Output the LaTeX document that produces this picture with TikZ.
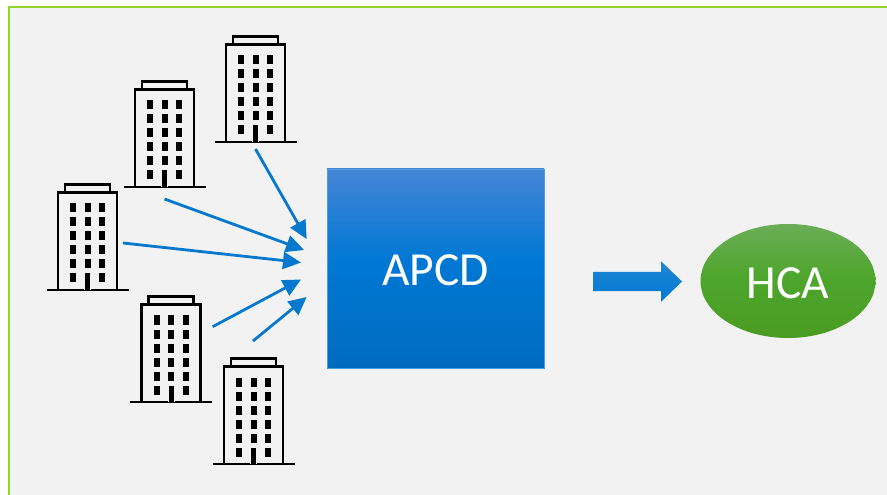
\documentclass[tikz,border=0pt]{standalone}
\usepackage{fontspec}
\setmainfont{Carlito}
\usetikzlibrary{arrows.meta,shapes.geometric,shapes.arrows}
\definecolor{framegreen}{HTML}{92D62A}
\definecolor{panelgray}{HTML}{F2F2F2}
\definecolor{linkblue}{HTML}{0678CE}
\definecolor{apcdtop}{HTML}{4585D6}
\definecolor{apcdmid}{HTML}{0078D4}
\definecolor{apcdbot}{HTML}{006CC0}
\definecolor{hcatop}{HTML}{6BAD58}
\definecolor{hcamid}{HTML}{4EA62C}
\definecolor{hcabot}{HTML}{4A9C22}
\pgfdeclareverticalshading{apcdfade}{100bp}{color(0bp)=(apcdbot); color(25bp)=(apcdbot);
  color(52bp)=(apcdmid); color(75bp)=(apcdtop); color(100bp)=(apcdtop)}
\pgfdeclareverticalshading{hcafade}{100bp}{color(0bp)=(hcabot); color(25bp)=(hcabot);
  color(52bp)=(hcamid); color(75bp)=(hcatop); color(100bp)=(hcatop)}
\tikzstyle{link}=[-{Triangle[length=18bp,width=17bp]},line width=2.8bp,draw=linkblue]
\tikzstyle{wall}=[black,line width=2.8bp]
\tikzstyle{apcdbox}=[rectangle,draw=apcdmid!70!white,line width=.8bp,shading=apcdfade,
  			  minimum width=217bp,minimum height=199bp,text height=33bp,text depth=0pt,
  			  text=white,font=\fontsize{47.5bp}{50bp}\selectfont]
\tikzstyle{hcaball}=[ellipse,draw=none,shading=hcafade,
  			  minimum width=175bp,minimum height=114bp,inner sep=0pt,text height=34bp,text depth=0pt,
  			  text=white,font=\fontsize{47.5bp}{50bp}\selectfont]
\tikzstyle{bigarrow}=[single arrow,draw=none,top color=linkblue!90!white,bottom color=apcdmid,
  			  minimum height=89bp,inner xsep=0pt,inner ysep=9.5bp,
  			  single arrow head extend=10.5bp,single arrow tip angle=88,single arrow head indent=0pt]
\tikzset{
  building/.pic={
	\draw[wall] (-29.5,0) -- (-29.5,-97.5) -- (29.5,-97.5) -- (29.5,0);
	\draw[wall] (-22.5,-97.5) -- (-22.5,-105.5) -- (22.5,-105.5) -- (22.5,-97.5);
	\draw[wall] (-41,0) -- (41,0);
	\foreach \wy in {-82,-68,-54,-40,-26,-12}
		\foreach \wx in {-14.5,0,14.5}
			\fill[black] (\wx-3,\wy-4.5) rectangle (\wx+3,\wy+4.5);
	\fill[panelgray] (-3.5,-18) rectangle (3.5,0);
	\fill[black] (-2.5,-16.5) rectangle (2.5,0);
  }
}
\begin{document}
\begin{tikzpicture}[x=1bp,y=-1bp]
	\useasboundingbox (0,0) rectangle (887,495);
	\begin{scope}
	\clip (0,0) rectangle (887,495);
	\draw[framegreen,fill=panelgray,line width=2bp] (8.5,7.5) rectangle (900,510);
	\end{scope}

	\pic (b1) at (255.5,142) {building};
	\pic (b2) at (164.5,187) {building};
	\pic (b3) at (87.5,290) {building};
	\pic (b4) at (171,402) {building};
	\pic (b5) at (253.5,464) {building};

	\node[apcdbox] (apcd) at (435.5,268.5) {APCD};
	\node[hcaball] (hca) at (788,281) {HCA};
	\node[bigarrow] (flow) at (632.5,281.5) {};

	\coordinate (s1) at (255.5,149);
	\coordinate (t1) at (306.7,239);
	\coordinate (s2) at (164.5,199);
	\coordinate (t2) at (304,250);
	\coordinate (s3) at (123,243);
	\coordinate (t3) at (301,262.5);
	\coordinate (s4) at (212.7,326.7);
	\coordinate (t4) at (301,279.5);
	\coordinate (s5) at (253,341);
	\coordinate (t5) at (306.7,297);

	\foreach \k in {1,...,5}
		\draw[link] (s\k) -- (t\k);
\end{tikzpicture}
\end{document}
